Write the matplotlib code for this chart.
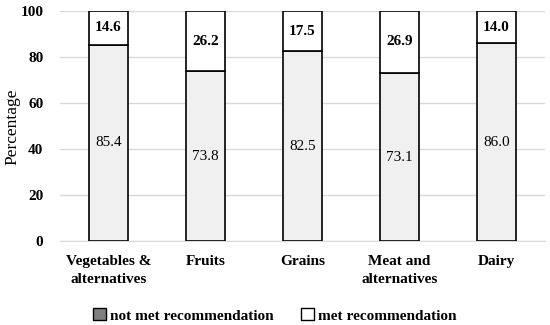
import matplotlib
matplotlib.use("Agg")
from matplotlib import pyplot as plt
from matplotlib.patches import Patch
import numpy as np

categories = ["Vegetables &\nalternatives", "Fruits", "Grains", "Meat and\nalternatives", "Dairy"]
not_met = [85.4, 73.8, 82.5, 73.1, 86.0]
met = [14.6, 26.2, 17.5, 26.9, 14.0]
yticks = [0, 20, 40, 60, 80, 100]

plt.rcParams['font.family'] = ['Liberation Serif', 'DejaVu Serif']

fig = plt.figure(figsize=(5.5, 3.25), dpi=100)
ax = fig.add_axes([0.109, 0.258, 0.882, 0.708])

x = np.arange(len(categories))
w = 0.4
ax.bar(x, not_met, w, color="#f0f0f0", edgecolor="black", linewidth=1.2, zorder=3)
ax.bar(x, met, w, bottom=not_met, color="white", edgecolor="black", linewidth=1.2, zorder=3)

for i in range(len(categories)):
    ax.text(x[i], not_met[i] / 2, f"{not_met[i]:.1f}", ha="center", va="center",
            fontsize=11, zorder=4)
    ax.text(x[i], not_met[i] + met[i] / 2, f"{met[i]:.1f}", ha="center", va="center",
            fontsize=11, fontweight="bold", zorder=4)

ax.set_xlim(-0.5, len(categories) - 0.5)
ax.set_ylim(0, 100)
ax.set_yticks(yticks)
ax.set_xticks(x)
ax.set_xticklabels(categories, fontsize=11, fontweight="bold", linespacing=1.5)
for t in ax.get_yticklabels():
    t.set_fontweight("bold")
    t.set_fontsize(11)
fig.text(0.022, 0.61, "Percentage", rotation=90, ha="center", va="center", fontsize=12.5)
ax.yaxis.grid(True, color="#d9d9d9", linewidth=1, zorder=0)
ax.set_axisbelow(True)
for s in ["top", "right", "left"]:
    ax.spines[s].set_visible(False)
ax.spines["bottom"].set_color("#d9d9d9")
ax.tick_params(axis="y", length=0, pad=12)
ax.tick_params(axis="x", length=0, pad=10)

handles = [Patch(facecolor="#808080", edgecolor="black", label="not met recommendation"),
           Patch(facecolor="white", edgecolor="black", label="met recommendation")]
fig.legend(handles=handles, loc="lower center", ncol=2, frameon=False,
           bbox_to_anchor=(0.5, -0.035), handlelength=0.8, handleheight=0.8,
           handletextpad=0.3, columnspacing=1.8, prop={"size": 11, "weight": "bold"})

fig.savefig("out.png", dpi=100)
